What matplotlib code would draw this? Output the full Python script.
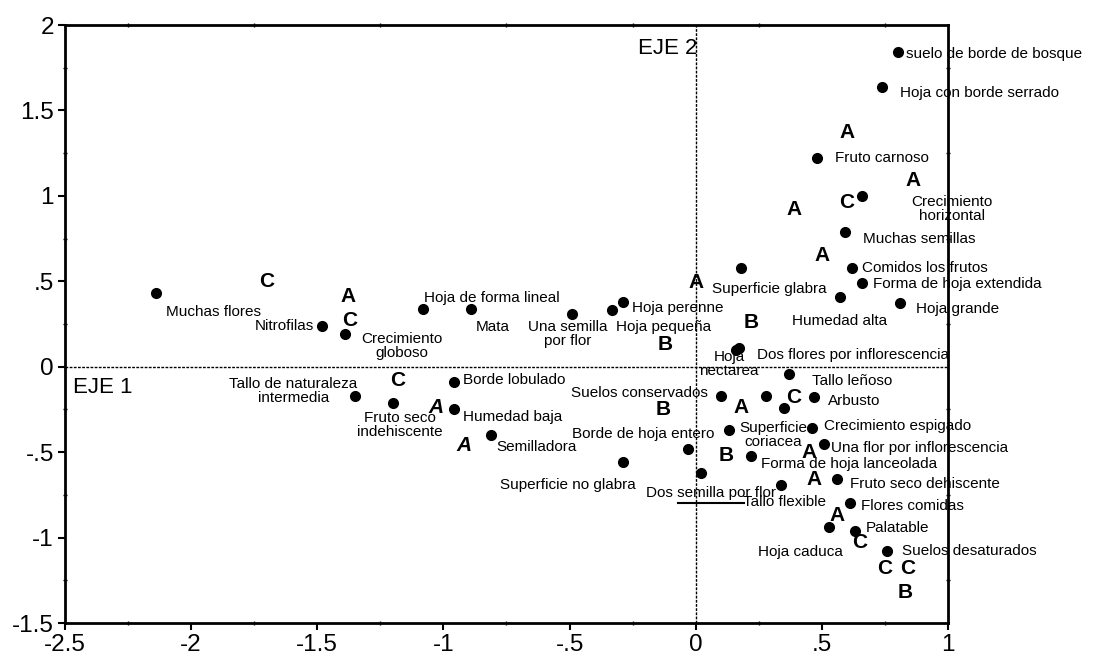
import numpy as np
import matplotlib
matplotlib.use('Agg')
import matplotlib.pyplot as plt
from matplotlib.ticker import MultipleLocator, FuncFormatter

plt.rcParams['font.family'] = ['Liberation Sans', 'DejaVu Sans']

# ---- caracteres (puntos) en el plano EJE 1 / EJE 2 ----
names = ['Muchas flores', 'Nitrofilas', 'Crecimiento\ngloboso', 'Hoja de forma lineal', 'Mata',
         'Una semilla\npor flor', 'Hoja pequeña', 'Hoja perenne', 'Superficie glabra',
         'suelo de borde de bosque', 'Hoja con borde serrado', 'Fruto carnoso',
         'Crecimiento\nhorizontal', 'Muchas semillas', 'Comidos los frutos',
         'Forma de hoja extendida', 'Humedad alta', 'Hoja grande',
         'Dos flores por inflorescencia', 'Hoja\nnectarea', 'Tallo de naturaleza\nintermedia',
         'Fruto seco\nindehiscente', 'Borde lobulado', 'Humedad baja', 'Semilladora',
         'Superficie no glabra', 'Suelos conservados', 'Borde de hoja entero',
         'Dos semilla por flor', 'Superficie\ncoriacea', 'Forma de hoja lanceolada',
         'Tallo leñoso', 'Arbusto', 'Crecimiento espigado', 'Una flor por inflorescencia',
         'Fruto seco dehiscente', 'Tallo flexible', 'Flores comidas', 'Hoja caduca',
         'Palatable', 'Suelos desaturados', '', '']
eje1 = [-2.14, -1.48, -1.39, -1.08, -0.89, -0.49, -0.33, -0.29, 0.18,
        0.80, 0.74, 0.48, 0.66, 0.59, 0.62, 0.66, 0.57, 0.81,
        0.17, 0.16, -1.35, -1.20, -0.96, -0.96, -0.81,
        -0.29, 0.10, -0.03, 0.02, 0.13, 0.22,
        0.37, 0.47, 0.46, 0.51, 0.56, 0.34, 0.61, 0.53,
        0.63, 0.76, 0.28, 0.35]
eje2 = [0.43, 0.24, 0.19, 0.34, 0.34, 0.31, 0.33, 0.38, 0.58,
        1.84, 1.64, 1.22, 1.00, 0.79, 0.58, 0.49, 0.41, 0.37,
        0.11, 0.10, -0.17, -0.21, -0.09, -0.25, -0.40,
        -0.56, -0.17, -0.48, -0.62, -0.37, -0.52,
        -0.04, -0.18, -0.36, -0.45, -0.66, -0.69, -0.80, -0.94,
        -0.96, -1.08, -0.17, -0.24]

# ---- grupos de especies (letras) ----
grupos = ['C', 'A', 'C', 'C', 'A', 'A', 'A', 'B', 'B', 'A', 'A', 'C', 'A', 'A',
          'B', 'A', 'C', 'B', 'A', 'A', 'A', 'C', 'C', 'C', 'B']
grupos_x = [-1.70, -1.38, -1.37, -1.18, -1.03, -0.92, 0.00, -0.12, 0.22, 0.60, 0.86, 0.60, 0.39, 0.50,
            -0.13, 0.18, 0.39, 0.12, 0.45, 0.47, 0.56, 0.65, 0.75, 0.84, 0.83]
grupos_y = [0.50, 0.41, 0.27, -0.08, -0.24, -0.46, 0.49, 0.13, 0.26, 1.37, 1.09, 0.96, 0.92, 0.65,
            -0.25, -0.24, -0.18, -0.52, -0.50, -0.66, -0.87, -1.03, -1.18, -1.18, -1.32]

# linea suelta bajo "Dos semilla por flor"
linea_x = [-0.07, 0.19]
linea_y = [-0.80, -0.80]

# posicion de las etiquetas respecto al punto (px a la derecha, px hacia abajo, alineacion)
offs = [(10, 19, 'left'), (-8, 0, 'right'), (57, 12, 'center'), (1, -11, 'left'), (5, 18, 'left'),
        (-4, 20, 'center'), (4, 17, 'left'), (9, 6, 'left'), (-29, 21, 'left'),
        (8, 2, 'left'), (18, 6, 'left'), (18, 0, 'left'),
        (90, 13, 'center'), (18, 7, 'left'), (10, 0, 'left'),
        (11, 1, 'left'), (0, 24, 'center'), (16, 6, 'left'),
        (18, 7, 'left'), (-7, 14, 'center'), (-62, -5, 'center'),
        (7, 22, 'center'), (9, -2, 'left'), (9, 8, 'left'), (5, 12, 'left'),
        (-55, 23, 'center'), (-13, -3, 'right'), (-45, -15, 'center'),
        (10, 20, 'center'), (45, 5, 'center'), (10, 8, 'left'),
        (23, 7, 'left'), (14, 4, 'left'), (12, -2, 'left'), (7, 4, 'left'),
        (13, 5, 'left'), (3, 17, 'center'), (11, 3, 'left'), (-29, 25, 'center'),
        (11, -3, 'left'), (15, 0, 'left'), (0, 0, 'left'), (0, 0, 'left')]
upright = [False, True, False, False, False, False, True, False, False, True, True, False, True, True,
           False, True, False, False, True, True, True, False, False, False, False]

fig = plt.figure(figsize=(10.95, 6.62), dpi=100)
ax = fig.add_axes([65/1095, 1-623/662, (948-65)/1095, (623-25)/662])

ax.axhline(0, color='black', lw=1, ls=(0, (2, 1)))
ax.axvline(0, color='black', lw=1, ls=(0, (2, 1)))
ax.plot(linea_x, linea_y, color='black', lw=1.5)

ax.plot(eje1, eje2, 'o', color='black', ms=7, ls='none', clip_on=False)
for n, x, y, (dx, dy, ha) in zip(names, eje1, eje2, offs):
    if n:
        ax.annotate(n, (x, y), xytext=(dx, -dy), textcoords='offset pixels', ha=ha, va='center',
                    fontsize=11, multialignment='center', linespacing=1.0, annotation_clip=False)

for g, x, y, up in zip(grupos, grupos_x, grupos_y, upright):
    if g == 'A' and not up:
        ax.text(x, y, g, ha='center', va='center', fontsize=15, fontweight='bold', style='italic')
    else:
        ax.text(x, y, g, ha='center', va='center', fontsize=15, fontweight='bold')

ax.text(-2.47, -0.12, 'EJE 1', fontsize=16, va='center', ha='left')
ax.text(-0.23, 1.865, 'EJE 2', fontsize=16, va='center', ha='left')

ax.set_xlim(-2.5, 1)
ax.set_ylim(-1.5, 2)
ax.xaxis.set_major_locator(MultipleLocator(0.5))
ax.yaxis.set_major_locator(MultipleLocator(0.5))
ax.xaxis.set_minor_locator(MultipleLocator(0.25))
ax.yaxis.set_minor_locator(MultipleLocator(0.25))
fmt = FuncFormatter(lambda v, p: ('%g' % v).replace('0.', '.') if abs(v) < 1 and v != 0 else '%g' % v)
ax.xaxis.set_major_formatter(fmt)
ax.yaxis.set_major_formatter(fmt)
ax.tick_params(which='major', direction='out', length=5, width=1.5, labelsize=17.5, pad=3)
ax.tick_params(which='minor', direction='inout', length=3, width=1, top=True, right=True)
for s in ax.spines.values():
    s.set_linewidth(2)

fig.savefig('out.png', dpi=100)
